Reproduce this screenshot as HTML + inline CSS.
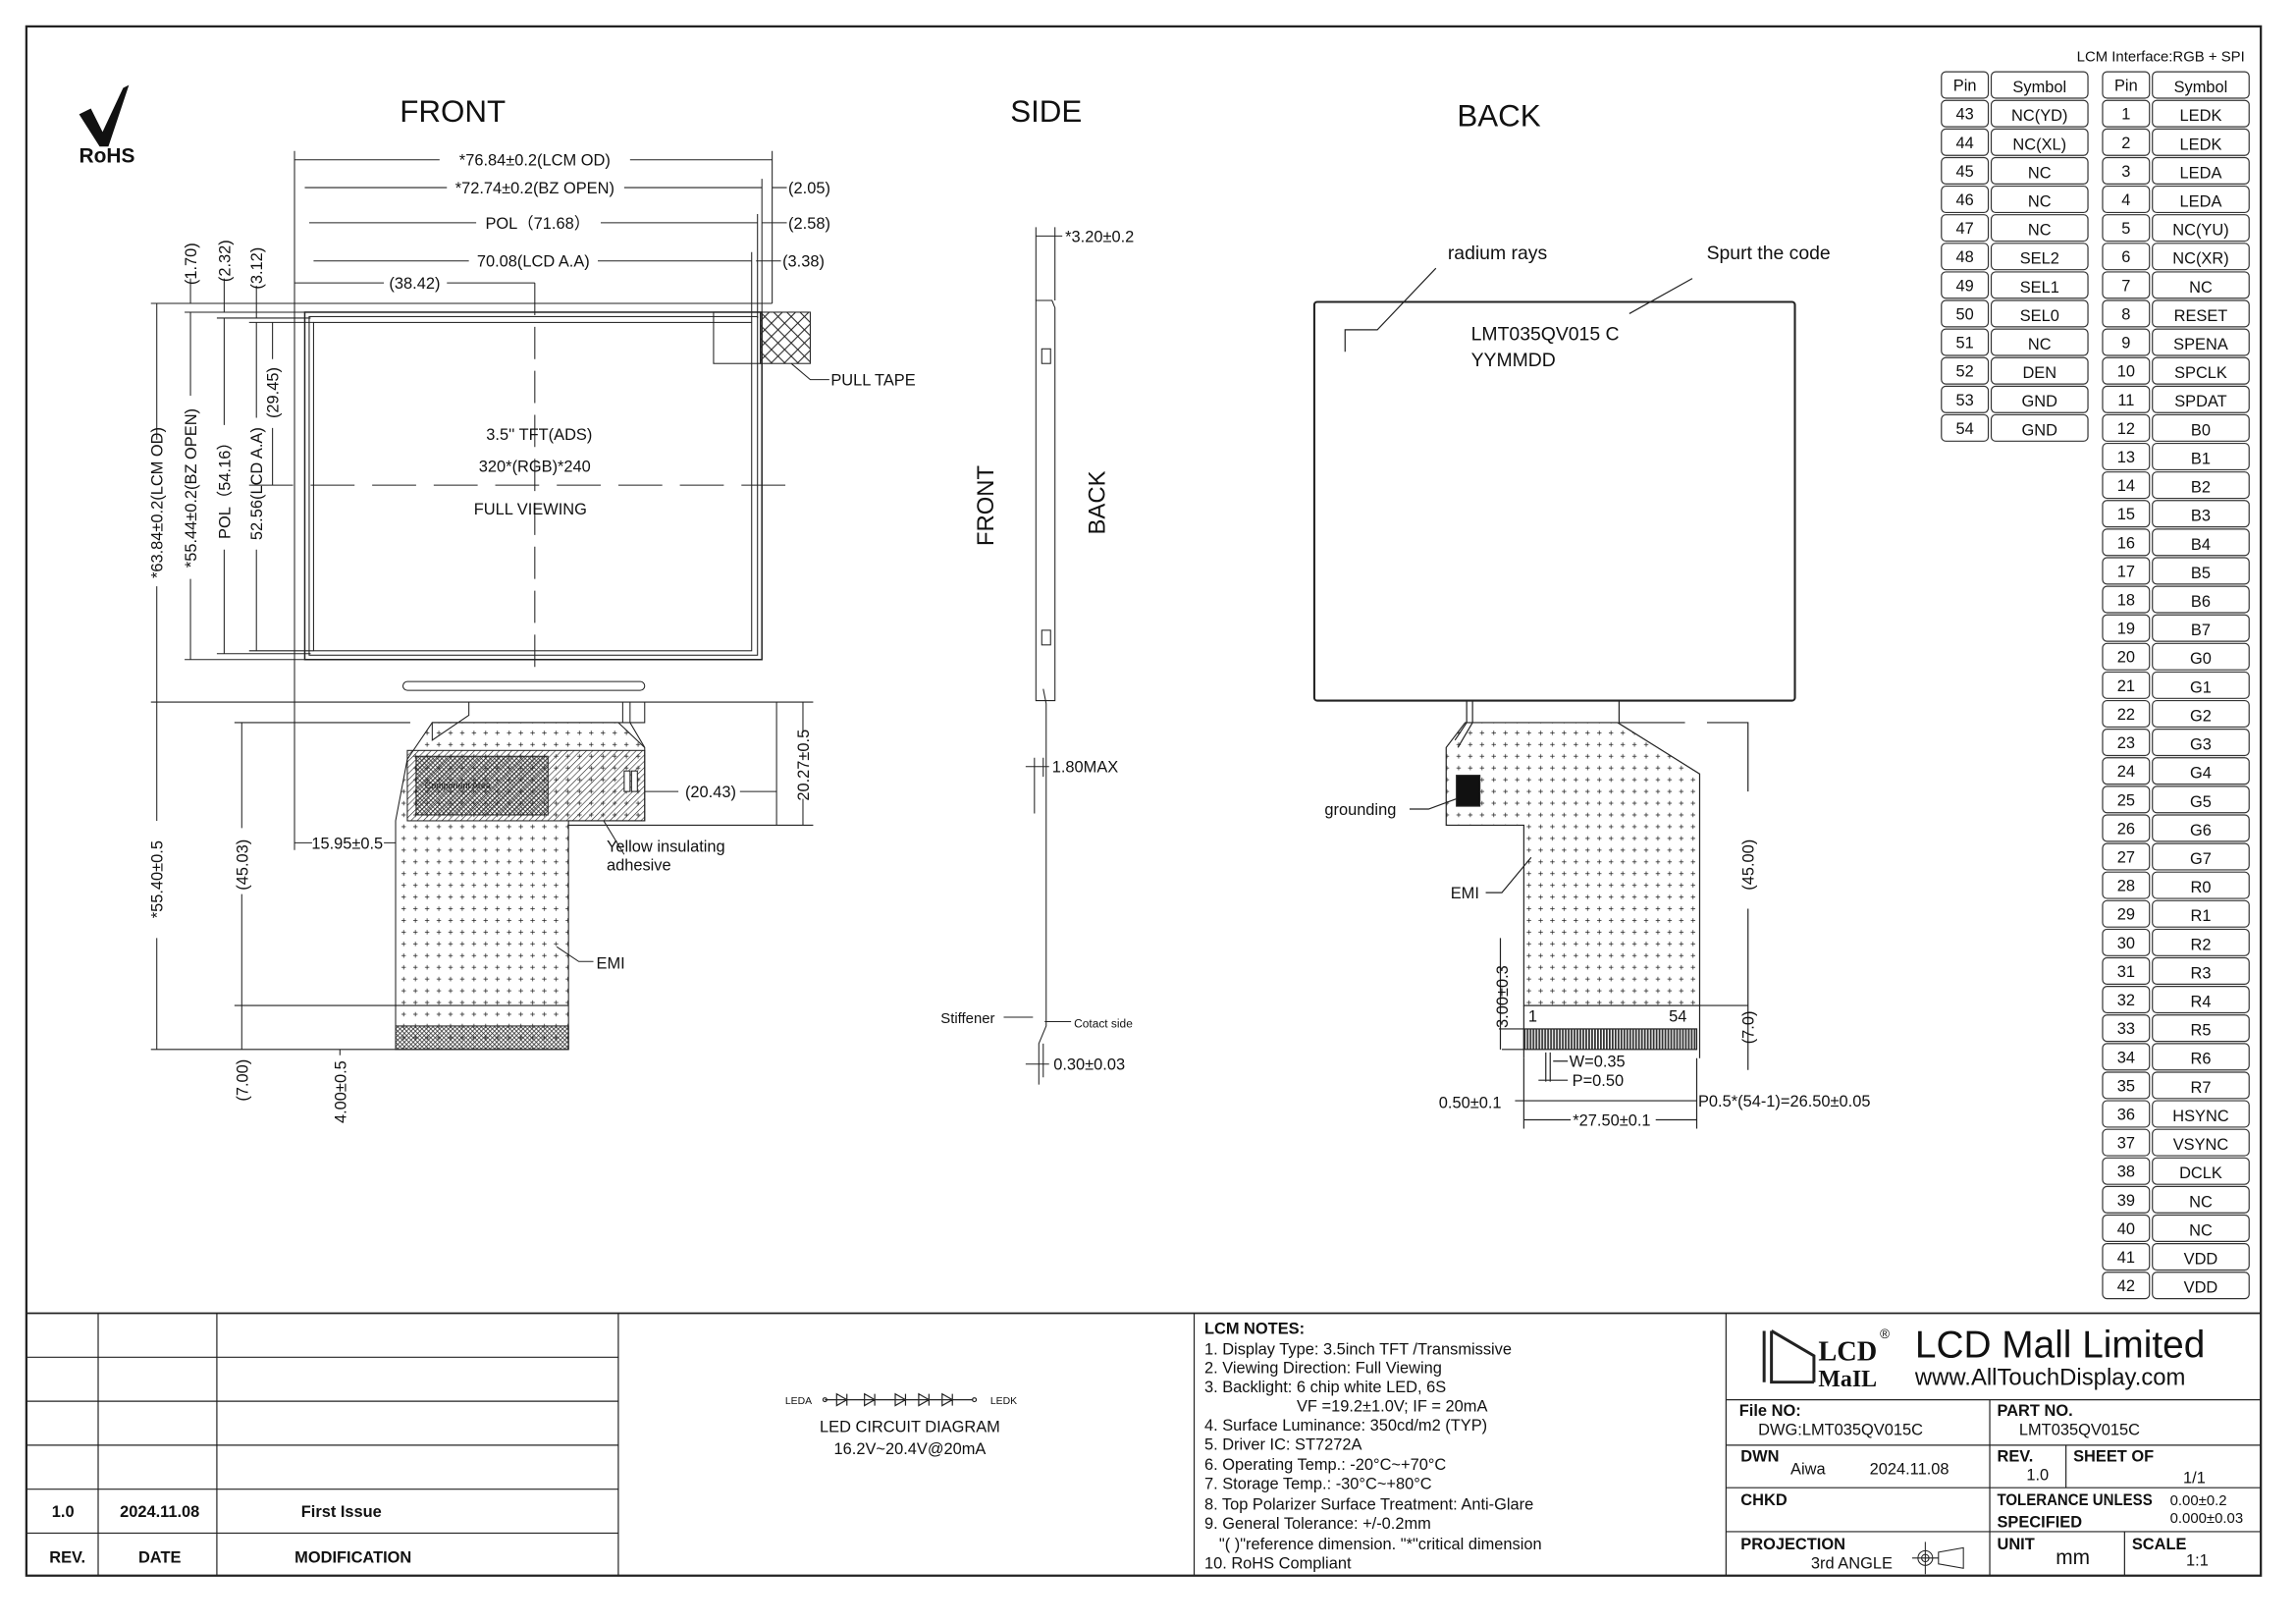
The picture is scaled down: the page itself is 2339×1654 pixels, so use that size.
<!DOCTYPE html>
<html><head><meta charset="utf-8"><style>
html,body{margin:0;padding:0;background:#fff}
svg{display:block}
text{font-family:"Liberation Sans Narrow","Liberation Sans",sans-serif;fill:#111}
.s{font-size:11px}.m{font-size:13px}.b{font-weight:bold}
.pin{font-size:11px;font-family:"Liberation Sans",sans-serif}
</style></head><body>
<svg width="2339" height="1654" viewBox="0 0 1567 1108" preserveAspectRatio="none" xmlns="http://www.w3.org/2000/svg">
<defs>
<pattern id="dots" width="8" height="8" patternUnits="userSpaceOnUse"><path d="M2 4h3M3.5 2.5v3" stroke="#222" stroke-width="0.5"/></pattern>
<pattern id="hatch" width="3" height="3" patternUnits="userSpaceOnUse" patternTransform="rotate(45)"><line x1="0" y1="0" x2="0" y2="3" stroke="#222" stroke-width="0.8"/></pattern>
<pattern id="xh" width="3" height="3" patternUnits="userSpaceOnUse"><path d="M0 0L3 3M3 0L0 3" stroke="#222" stroke-width="0.5"/></pattern>
<pattern id="xh2" width="9" height="9" patternUnits="userSpaceOnUse"><path d="M0 0L9 9M9 0L0 9" stroke="#222" stroke-width="0.7"/></pattern>
<pattern id="fing" width="2" height="10" patternUnits="userSpaceOnUse"><rect width="1.2" height="10" fill="#333"/></pattern>
</defs>
<g fill="none" stroke="#222" stroke-width="0.8">
<rect x="18" y="18" width="1525" height="1057" stroke-width="1.5"/>
<line x1="18" y1="896" x2="1543" y2="896" stroke-width="1.2"/>
<path d="M67 896V1075M148 896V1075M422 896V1075M815 896V1075M1178 896V1075"/>
<path d="M18 926H422M18 956H422M18 986H422M18 1016H422M18 1046H422"/>
<path d="M1178 955H1543M1178 986H1543M1178 1015H1543M1178 1045H1543M1358 955V1075M1410 986V1015M1450 1045V1075"/>
<path d="M563 955H664"/><circle cx="563" cy="955" r="1.3"/><circle cx="665" cy="955" r="1.3"/>
<path d="M571 951v8l7-4zM578 951v8M590 951v8l7-4zM597 951v8M611 951v8l7-4zM618 951v8M627 951v8l7-4zM634 951v8M643 951v8l7-4zM650 951v8"/>
</g>
<g class="b" font-size="11">
<text x="43" y="1035" text-anchor="middle">1.0</text><text x="109" y="1035" text-anchor="middle">2024.11.08</text><text x="233" y="1035" text-anchor="middle">First Issue</text>
<text x="46" y="1066" text-anchor="middle">REV.</text><text x="109" y="1066" text-anchor="middle">DATE</text><text x="241" y="1066" text-anchor="middle">MODIFICATION</text>
</g>
<text x="545" y="958" font-size="7" text-anchor="middle">LEDA</text><text x="685" y="958" font-size="7" text-anchor="middle">LEDK</text>
<text x="621" y="977" class="s" text-anchor="middle">LED CIRCUIT DIAGRAM</text>
<text x="621" y="992" class="s" text-anchor="middle">16.2V~20.4V@20mA</text>
<g class="s">
<text x="822" y="910" class="b">LCM NOTES:</text>
<text x="822" y="924">1. Display Type: 3.5inch TFT /Transmissive</text>
<text x="822" y="937">2. Viewing Direction: Full Viewing</text>
<text x="822" y="950">3. Backlight: 6 chip white LED, 6S</text>
<text x="885" y="963">VF =19.2±1.0V; IF = 20mA</text>
<text x="822" y="976">4. Surface Luminance: 350cd/m2 (TYP)</text>
<text x="822" y="989">5. Driver IC: ST7272A</text>
<text x="822" y="1003">6. Operating Temp.: -20°C~+70°C</text>
<text x="822" y="1016">7. Storage Temp.: -30°C~+80°C</text>
<text x="822" y="1030">8. Top Polarizer Surface Treatment: Anti-Glare</text>
<text x="822" y="1043">9. General Tolerance: +/-0.2mm</text>
<text x="832" y="1057">"( )"reference dimension. "*"critical dimension</text>
<text x="822" y="1070">10. RoHS Compliant</text>
</g>
<g fill="none" stroke="#222" stroke-width="2"><path d="M1204 908V943M1209 908V943H1238M1209 908L1238 925V943"/></g>
<text x="1241" y="928" font-size="19" font-weight="bold" style="font-family:'Liberation Serif',serif">LCD</text>
<text x="1241" y="946" style="font-family:'Liberation Serif',serif" font-size="16" font-weight="bold">MaIL</text>
<text x="1283" y="913" font-size="9">®</text>
<text x="1307" y="926" font-size="26" style="font-family:'Liberation Sans',sans-serif">LCD Mall Limited</text>
<text x="1307" y="945" font-size="16" style="font-family:'Liberation Sans',sans-serif">www.AllTouchDisplay.com</text>
<g class="s">
<text x="1187" y="966" class="b">File NO:</text><text x="1200" y="979">DWG:LMT035QV015C</text>
<text x="1363" y="966" class="b">PART NO.</text><text x="1378" y="979">LMT035QV015C</text>
<text x="1188" y="997" class="b">DWN</text><text x="1222" y="1006">Aiwa</text><text x="1276" y="1006">2024.11.08</text>
<text x="1363" y="997" class="b">REV.</text><text x="1383" y="1010">1.0</text>
<text x="1415" y="997" class="b">SHEET OF</text><text x="1490" y="1012">1/1</text>
<text x="1188" y="1027" class="b">CHKD</text>
<text x="1363" y="1027" class="b" textLength="106" lengthAdjust="spacingAndGlyphs">TOLERANCE UNLESS</text><text x="1363" y="1042" class="b">SPECIFIED</text>
<text x="1481" y="1027" font-size="10">0.00±0.2</text><text x="1481" y="1039" font-size="10">0.000±0.03</text>
<text x="1188" y="1057" class="b">PROJECTION</text><text x="1236" y="1070">3rd ANGLE</text>
<text x="1363" y="1057" class="b">UNIT</text><text x="1403" y="1067" font-size="14">mm</text>
<text x="1455" y="1057" class="b">SCALE</text><text x="1492" y="1068">1:1</text>
</g>
<g fill="none" stroke="#222" stroke-width="0.7"><circle cx="1314" cy="1063" r="5"/><circle cx="1314" cy="1063" r="2.5"/><path d="M1305 1063H1323M1314 1052V1074M1323 1059L1340 1056V1070L1323 1067Z"/></g>

<path d="M54 78L62 74L70 90L84 60L88 58L74 100L68 100Z" fill="#111"/>
<text x="73" y="111" font-size="14" font-weight="bold" text-anchor="middle" style="font-family:'Liberation Sans',sans-serif">RoHS</text>
<text x="309" y="83" font-size="21" text-anchor="middle" style="font-family:'Liberation Sans',sans-serif">FRONT</text>
<text x="714" y="83" font-size="21" text-anchor="middle" style="font-family:'Liberation Sans',sans-serif">SIDE</text>
<text x="1023" y="86" font-size="21" text-anchor="middle" style="font-family:'Liberation Sans',sans-serif">BACK</text>

<g fill="none" stroke="#222" stroke-width="0.7">
<path d="M201 103V580M527 103V207M520 122V213M517 146V217M513 172V220"/>
<path d="M201 109H300M430 109H527M208 128H305M426 128H520M211 152H325M410 152H517M214 178H320M408 178H513M201 193H262M305 193H365"/>
<path d="M527 128H537M520 152H537M516 178H533"/>
<path d="M103 207H527M126 213H208M148 217H212M170 220H214M103 479H555M126 450H208M148 446H212M170 444H214"/>
<rect x="208" y="213" width="312" height="237" stroke-width="1"/>
<rect x="211" y="216" width="306" height="231"/>
<rect x="214" y="220" width="299" height="224"/>
<rect x="487" y="213" width="32" height="35"/>
<rect x="519" y="213" width="34" height="35" fill="url(#xh2)"/>
<path d="M540 248L553 259H566"/>
<path d="M365 193V460" stroke-dasharray="22 8"/>
<path d="M170 331H540" stroke-dasharray="30 12"/>
<rect x="275" y="465" width="165" height="6" rx="3"/>
<path d="M107 207V300M107 400V479M130 213V270M130 395V450M153 217V290M153 375V446M175 220V285M175 375V444M186 220V245M186 292V331"/>
<path d="M130 190V207M153 190V213M175 195V217"/>
<path d="M107 479V560M107 640V716M165 493V565M165 610V686M165 686V716M232 716V720M103 716H270M160 493H280M160 686H270"/>
<path d="M201 575H213M262 575H270M440 540H463M505 540H530M530 479V563M548 479V500M548 545V563M388 563H555"/>
<path d="M320 479V488L295 505V493H440V479M425 479V493M430 479V493L440 510"/>
<path d="M295 493H422L440 510V560H388V716H270V560L278 518Z" fill="url(#dots)"/>
<rect x="278" y="512" width="162" height="48" fill="url(#hatch)"/>
<rect x="284" y="516" width="90" height="40" fill="url(#xh)"/>
<rect x="270" y="700" width="118" height="16" fill="url(#xh)"/>
<path d="M270 686H388"/>
<rect x="426" y="526" width="4" height="14" fill="#fff"/><rect x="431" y="526" width="4" height="14" fill="#fff"/>
<path d="M412 560L426 583M380 646L395 656H405"/>
</g>
<text x="290" y="538" font-size="6" fill="#555">Component Area</text>
<g class="s">
<text x="365" y="113" text-anchor="middle">*76.84±0.2(LCM OD)</text>
<text x="365" y="132" text-anchor="middle">*72.74±0.2(BZ OPEN)</text>
<text x="367" y="156" text-anchor="middle">POL（71.68）</text>
<text x="364" y="182" text-anchor="middle">70.08(LCD A.A)</text>
<text x="283" y="197" text-anchor="middle">(38.42)</text>
<text x="538" y="132">(2.05)</text><text x="538" y="156">(2.58)</text><text x="534" y="182">(3.38)</text>
<text x="567" y="263">PULL TAPE</text>
<text x="368" y="300" text-anchor="middle">3.5'' TFT(ADS)</text>
<text x="365" y="322" text-anchor="middle">320*(RGB)*240</text>
<text x="362" y="351" text-anchor="middle">FULL VIEWING</text>
<text x="485" y="544" text-anchor="middle">(20.43)</text>
<text x="237" y="579" text-anchor="middle">15.95±0.5</text>
<text x="414" y="581">Yellow insulating</text><text x="414" y="594">adhesive</text>
<text x="407" y="661">EMI</text>
<text transform="translate(111,343) rotate(-90)" text-anchor="middle">*63.84±0.2(LCM OD)</text>
<text transform="translate(134,333) rotate(-90)" text-anchor="middle">*55.44±0.2(BZ OPEN)</text>
<text transform="translate(157,332) rotate(-90)" text-anchor="middle">POL（54.16）</text>
<text transform="translate(179,330) rotate(-90)" text-anchor="middle">52.56(LCD A.A)</text>
<text transform="translate(190,268) rotate(-90)" text-anchor="middle">(29.45)</text>
<text transform="translate(134,180) rotate(-90)" text-anchor="middle">(1.70)</text>
<text transform="translate(157,178) rotate(-90)" text-anchor="middle">(2.32)</text>
<text transform="translate(179,183) rotate(-90)" text-anchor="middle">(3.12)</text>
<text transform="translate(111,600) rotate(-90)" text-anchor="middle">*55.40±0.5</text>
<text transform="translate(169,590) rotate(-90)" text-anchor="middle">(45.03)</text>
<text transform="translate(169,737) rotate(-90)" text-anchor="middle">(7.00)</text>
<text transform="translate(236,745) rotate(-90)" text-anchor="middle">4.00±0.5</text>
<text transform="translate(552,522) rotate(-90)" text-anchor="middle">20.27±0.5</text>
</g>

<g fill="none" stroke="#222" stroke-width="0.7">
<path d="M707 155V205M720 155V205M707 161H725"/>
<path d="M707 205H718L720 210V478H707Z"/>
<path d="M712 470L714 480V700L709 712V740"/>
<rect x="711" y="238" width="6" height="10"/><rect x="711" y="430" width="6" height="10"/>
<path d="M706 517V555M712 517V530M700 523H716"/>
<path d="M685 694H705M713 697H731M700 726H716M712 712V735"/>
</g>
<g class="s">
<text x="727" y="165">*3.20±0.2</text>
<text x="718" y="527">1.80MAX</text>
<text x="642" y="698" font-size="10">Stiffener</text>
<text x="733" y="701" font-size="8">Cotact side</text>
<text x="719" y="730">0.30±0.03</text>
</g>
<text transform="translate(678,345) rotate(-90)" font-size="16" text-anchor="middle" style="font-family:'Liberation Sans',sans-serif">FRONT</text>
<text transform="translate(754,343) rotate(-90)" font-size="16" text-anchor="middle" style="font-family:'Liberation Sans',sans-serif">BACK</text>

<g fill="none" stroke="#222" stroke-width="0.8">
<rect x="897" y="206" width="328" height="272" rx="2" stroke-width="1.4"/>
<path d="M980 183L940 225H918V240M1155 190L1112 214"/>
<path d="M1001 478V493L993 505M1005 478V493L995 510M1105 478V493H1150"/>
<path d="M1000 493H1104L1160 528V686H1040V563H987V510Z" fill="url(#dots)"/>
<rect x="994" y="529" width="16" height="21" fill="#111"/>
<path d="M962 552H975L994 545M1014 609L1025 609L1045 585"/>
<path d="M1040 686H1160M1040 686V722M1160 686V722"/>
<rect x="1040" y="702" width="118" height="14" fill="url(#fing)"/>
<path d="M1165 493H1193V540M1193 620V686M1160 686H1193V730M1023 702H1040M1025 716H1040M1024 640V716"/>
<path d="M1055 718V738M1058 718V738M1060 724H1070M1050 737H1070M1034 751H1040M1040 751H1158M1040 722V770M1158 722V770M1040 764H1072M1130 764H1158"/>
</g>
<g class="s">
<text x="1022" y="177" font-size="13" text-anchor="middle">radium rays</text>
<text x="1207" y="177" font-size="13" text-anchor="middle">Spurt the code</text>
<text x="1004" y="232" font-size="13">LMT035QV015 C</text>
<text x="1004" y="250" font-size="13">YYMMDD</text>
<text x="904" y="556">grounding</text>
<text x="990" y="613">EMI</text>
<text x="1043" y="697">1</text><text x="1139" y="697">54</text>
<text x="1071" y="728">W=0.35</text>
<text x="1073" y="741">P=0.50</text>
<text x="982" y="756">0.50±0.1</text>
<text x="1159" y="755">P0.5*(54-1)=26.50±0.05</text>
<text x="1100" y="768" text-anchor="middle">*27.50±0.1</text>
<text transform="translate(1197,590) rotate(-90)" text-anchor="middle">(45.00)</text>
<text transform="translate(1197,701) rotate(-90)" text-anchor="middle">(7.0)</text>
<text transform="translate(1029,680) rotate(-90)" text-anchor="middle">3.00±0.3</text>
</g>

<text x="1532" y="42" font-size="10" text-anchor="end" style="font-family:'Liberation Sans',sans-serif">LCM Interface:RGB + SPI</text>
<g id="pins" class="pin"></g>
<script>
(function(){
var ns="http://www.w3.org/2000/svg",g=document.getElementById('pins');
var L=["NC(YD)","NC(XL)","NC","NC","NC","SEL2","SEL1","SEL0","NC","DEN","GND","GND"];
var R=["LEDK","LEDK","LEDA","LEDA","NC(YU)","NC(XR)","NC","RESET","SPENA","SPCLK","SPDAT","B0","B1","B2","B3","B4","B5","B6","B7","G0","G1","G2","G3","G4","G5","G6","G7","R0","R1","R2","R3","R4","R5","R6","R7","HSYNC","VSYNC","DCLK","NC","NC","VDD","VDD"];
function rect(x,y,w){var r=document.createElementNS(ns,'rect');r.setAttribute('x',x);r.setAttribute('y',y);r.setAttribute('width',w);r.setAttribute('height',18);r.setAttribute('rx',3);r.setAttribute('fill','none');r.setAttribute('stroke','#333');r.setAttribute('stroke-width','0.8');g.appendChild(r);}
function txt(x,y,s){var t=document.createElementNS(ns,'text');t.setAttribute('x',x);t.setAttribute('y',y);t.setAttribute('text-anchor','middle');t.textContent=s;g.appendChild(t);}
function row(x1,pw,sw,y,p,s){rect(x1,y,pw);rect(x1+pw+2,y,sw);txt(x1+pw/2,y+13,p);txt(x1+pw+2+sw/2,y+14,s);}
for(var i=0;i<=42;i++){var y=49+i*19.5;
 if(i==0){row(1325,32,66,y,"Pin","Symbol");row(1435,32,66,y,"Pin","Symbol");continue;}
 if(i<=12)row(1325,32,66,y,String(42+i),L[i-1]);
 row(1435,32,66,y,String(i),R[i-1]);}
})();
</script>
</svg>
</body></html>
